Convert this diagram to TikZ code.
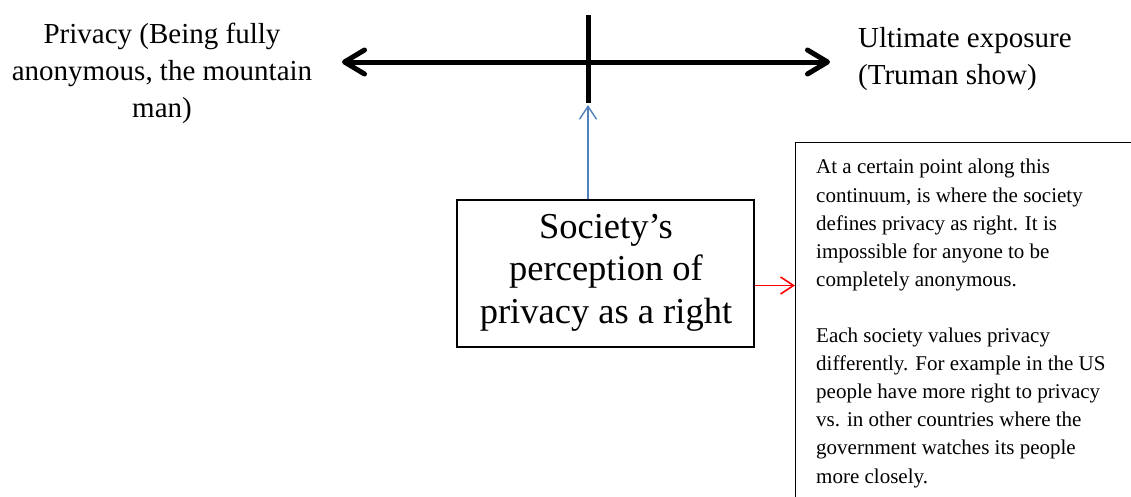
\documentclass[tikz,border=0pt]{standalone}
\usepackage{fontspec}
\setmainfont{Liberation Serif}
\usetikzlibrary{arrows.meta}
\tikzset{
  bigtxt/.style={font=\fontsize{29}{37}\selectfont, inner sep=0pt},
  midtxt/.style={font=\fontsize{36.5}{42.5}\selectfont, inner sep=0pt, align=center},
  smalltxt/.style={font=\fontsize{21}{28.1}\selectfont, inner sep=0pt, align=left},
  axisline/.style={line width=5pt, black},
  axisarrow/.style={axisline, {Straight Barb[length=20pt,width=24pt,round]}-{Straight Barb[length=20pt,width=24pt,round]}},
  bluearrow/.style={color={rgb,255:red,79;green,129;blue,189}, line width=1.4pt, -{Straight Barb[length=13pt,width=17pt]}},
  redarrow/.style={color=red, line width=1.6pt, -{Straight Barb[length=13pt,width=17pt]}},
  boxstyle/.style={draw=black, line width=1.2pt, inner sep=0pt},
}
\begin{document}
\begin{tikzpicture}[x=1pt,y=-1pt]
\useasboundingbox (0,0) rectangle (1131,496);
\clip (0,0) rectangle (1131,496);
% axis
\coordinate (L) at (342,62);
\coordinate (R) at (830,62);
\coordinate (vt) at (588,15);
\coordinate (vb) at (588,103);
\draw[axisarrow] (L) -- (R);
\draw[axisline] (vt) -- (vb);
% end labels (base anchor = baseline of last line)
\node[bigtxt, align=center, anchor=base] (priv) at (162,117) {Privacy (Being fully\\anonymous, the mountain\\man)};
\node[bigtxt, align=left, anchor=base west] (ult) at (858,84) {Ultimate exposure\\(Truman show)};
% center box
\node[boxstyle, minimum width=297pt, minimum height=147pt] (soc) at (605.5,273.5) {};
\node[midtxt, anchor=base] (soctxt) at (606,323) {Society’s\\perception of\\privacy as a right};
\draw[bluearrow] (soc.north -| vb) -- ([yshift=-2pt]vb);
% note box
\node[boxstyle, line width=1pt, anchor=north west, minimum width=360pt, minimum height=380pt] (note) at (795,142) {};
\node[smalltxt, anchor=base west] (notetxt) at (816,483) {At a certain point along this\\continuum, is where the society\\defines privacy as right. It is\\impossible for anyone to be\\completely anonymous.\\[28.1pt]Each society values privacy\\differently. For example in the US\\people have more right to privacy\\vs. in other countries where the\\government watches its people\\more closely.};
\draw[redarrow] ([yshift=-12pt]soc.east) -- ([yshift=-12pt]soc.east -| note.west);
\end{tikzpicture}
\end{document}
